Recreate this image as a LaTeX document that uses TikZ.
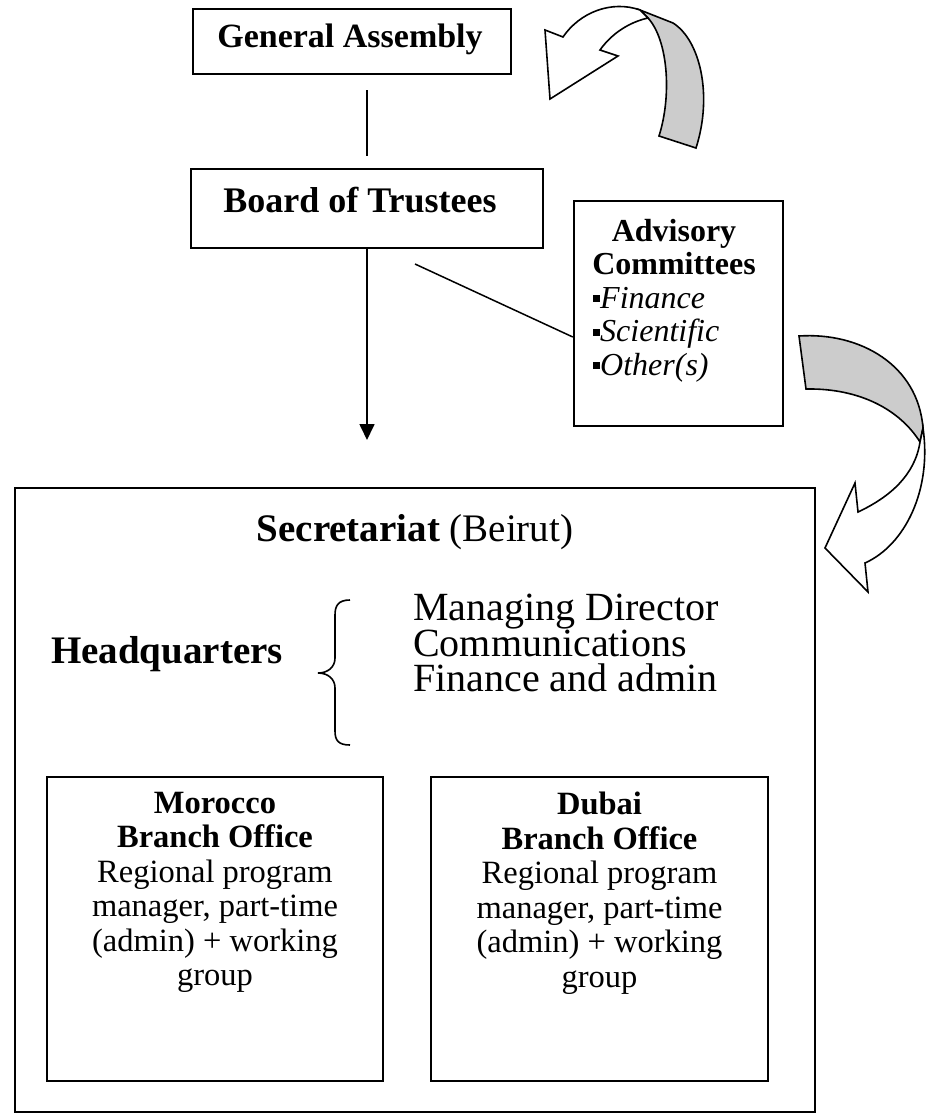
\documentclass[tikz,border=0pt]{standalone}
\usepackage{fontspec}
\setmainfont{Liberation Serif}
\usetikzlibrary{arrows.meta}
\newcommand\myfs[2]{\fontsize{#1}{#2}\selectfont}
\newcommand\mybul{\rule[6pt]{7pt}{7pt}}
\definecolor{bandgray}{gray}{0.8}
\tikzset{
  box/.style={draw, line width=2.4pt, inner sep=0pt},
  conn/.style={line width=1.7pt},
  curv/.style={draw, line width=1.6pt, line join=miter},
  txt/.style={inner sep=0pt},
}
\begin{document}
\begin{tikzpicture}[x=1pt,y=-1pt]
\useasboundingbox (0,0) rectangle (927,1113);

% boxes
\node[box, minimum width=318pt, minimum height=65pt] (GA) at (352,41.5) {};
\node[box, minimum width=352pt, minimum height=79pt] (BoT) at (367,208.5) {};
\node[box, minimum width=209pt, minimum height=225pt] (Adv) at (678.5,313.5) {};
\node[box, line width=2pt, minimum width=800pt, minimum height=624pt] (Sec) at (415,800) {};
\node[box, minimum width=336pt, minimum height=304pt] (Mor) at (215,929) {};
\node[box, minimum width=337pt, minimum height=304pt] (Dub) at (599.5,929) {};

% texts
\node[txt, anchor=base, font=\myfs{34}{40}\bfseries] (GAt) at (350,48) {General Assembly};
\node[txt, anchor=base, font=\myfs{36}{42}\bfseries] (BoTt) at (360,212) {Board of Trustees};
\node[txt, anchor=north, align=center, font=\myfs{32}{33}\bfseries] (Advt) at (674,219) {Advisory\\Committees};
\node[txt, anchor=north west, align=left, font=\myfs{32}{33.5}\itshape] (Advl) at (593,287) {\mybul Finance\\\mybul Scientific\\\mybul Other(s)};
\node[txt, anchor=base, font=\myfs{39}{44}] (Sect) at (415,541) {\textbf{Secretariat} (Beirut)};
\node[txt, anchor=base, font=\myfs{39}{44}\bfseries] (HQ) at (167,663) {Headquarters};
\node[txt, anchor=north west, align=left, font=\myfs{40}{34.5}] (HQl) at (413,594) {Managing Director\\Communications\\Finance and admin};
\node[txt, anchor=north, align=center, font=\myfs{32.5}{34.5}] (Mort) at (215,792) {\textbf{Morocco}\\\textbf{Branch Office}\\Regional program\\manager, part-time\\(admin) + working\\group};
\node[txt, anchor=north, align=center, font=\myfs{32.5}{34.5}] (Dubt) at (599.5,792) {\textbf{Dubai}\\\textbf{Branch Office}\\Regional program\\manager, part-time\\(admin) + working\\group};

% brace
\coordinate (brtip) at (318,673);
\draw[line width=1.6pt] (350,600) .. controls (338,600) and (335,606) .. (335,615)
  -- (335,658) .. controls (335,667) and (328,673) .. (brtip)
  .. controls (328,673) and (335,679) .. (335,688)
  -- (335,731) .. controls (335,740) and (338,745) .. (350,745);

% connectors
\draw[conn, shorten <=15pt, shorten >=12pt] (BoT.north |- GA.south) -- (BoT.north);
\coordinate (arrEnd) at (367,440);
\draw[conn, -{Triangle[width=15pt,length=16pt]}] (BoT.south) -- (arrEnd);
\coordinate (diagStart) at (415,264);
\draw[conn, line width=1.5pt] (diagStart) -- (Adv.west |- 0,337);

% top curved arrow
\draw[curv, fill=bandgray] (640,10) -- (673,23) .. controls (700,40) and (713,95) .. (696,148)
  -- (659,136) .. controls (672,95) and (668,40) .. (648,18) -- cycle;
\draw[curv, fill=white] (640,10) .. controls (612,0) and (580,12) .. (563,37)
  -- (545,30) -- (550,99) -- (618,56) -- (600,50)
  .. controls (612,33) and (630,22) .. (648,18) -- cycle;

% right curved arrow
\draw[curv, fill=bandgray] (799,336) .. controls (860,332) and (918,365) .. (923,428)
  -- (920,442) .. controls (900,410) and (860,388) .. (806,389) -- cycle;
\draw[curv, fill=white] (923,428) .. controls (932,490) and (905,545) .. (865,563)
  -- (868,592) -- (825,548) -- (855,483) -- (858,512)
  .. controls (890,497) and (915,475) .. (920,442) -- cycle;
\end{tikzpicture}
\end{document}
